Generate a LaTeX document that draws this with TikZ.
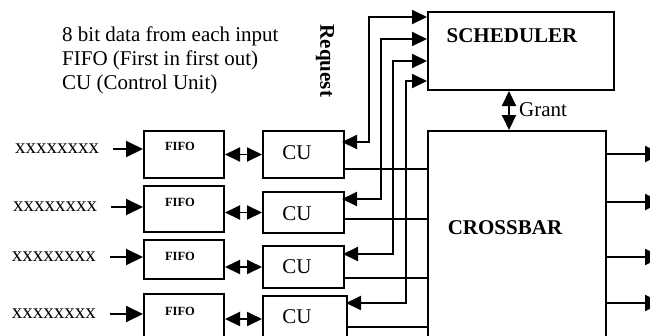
\documentclass[tikz,border=0pt]{standalone}
\usepackage{fontspec}
\setmainfont{Liberation Serif}
\usetikzlibrary{arrows.meta}
\begin{document}
\begin{tikzpicture}[x=1pt,y=-1pt,
 blk/.style={draw, line width=2pt, inner sep=0pt, anchor=north west},
 lbl/.style={inner sep=0pt, font=\fontsize{21}{24}\selectfont},
 blbl/.style={inner sep=0pt, font=\fontsize{21}{24}\selectfont\bfseries},
 flbl/.style={inner sep=0pt, font=\fontsize{12.5}{14}\selectfont\bfseries},
 ln/.style={line width=1.9pt},
 arr/.style={ln, -{Triangle[length=17pt,width=16pt]}},
 darr/.style={ln, {Triangle[length=15pt,width=14pt]}-{Triangle[length=15pt,width=14pt]}},
]
\useasboundingbox (0,0) rectangle (650,335);

% top-left legend
\node[lbl, anchor=base west] (t1) at (62,41) {8 bit data from each input};
\node[lbl, anchor=base west] (t2) at (62,65) {FIFO (First in first out)};
\node[lbl, anchor=base west] (t3) at (62,89) {CU (Control Unit)};
\node[blbl, rotate=-90] (req) at (325,61) {Request};

% FIFO boxes
\node[blk, minimum width=80pt, minimum height=47pt] (f1) at (143,130) {};
\node[blk, minimum width=80pt, minimum height=46pt] (f2) at (143,185) {};
\node[blk, minimum width=80pt, minimum height=39pt] (f3) at (143,239) {};
\node[blk, minimum width=80pt, minimum height=50pt] (f4) at (143,293) {};
\node[flbl] (fl1) at (180,146) {FIFO};
\node[flbl] (fl2) at (180,202) {FIFO};
\node[flbl] (fl3) at (180,256) {FIFO};
\node[flbl] (fl4) at (180,311) {FIFO};

% CU boxes
\node[blk, minimum width=81pt, minimum height=47pt] (c1) at (262,130) {};
\node[blk, minimum width=81pt, minimum height=41pt] (c2) at (262,191) {};
\node[blk, minimum width=81pt, minimum height=42pt] (c3) at (262,245) {};
\node[blk, minimum width=84pt, minimum height=46pt] (c4) at (262,295) {};
\node[lbl] (cl1) at (297,153) {CU};
\node[lbl] (cl2) at (297,214) {CU};
\node[lbl] (cl3) at (297,267) {CU};
\node[lbl] (cl4) at (297,317) {CU};

% scheduler and crossbar
\node[blk, minimum width=186pt, minimum height=78pt] (sch) at (427,11) {};
\node[blbl] (schl) at (512,36) {SCHEDULER};
\node[blk, minimum width=178pt, minimum height=230pt] (xb) at (427,130) {};
\node[blbl] (xbl) at (505,228) {CROSSBAR};

% inputs
\node[lbl] (x1) at (57,149) {xxxxxxxx};
\node[lbl] (x2) at (55,207) {xxxxxxxx};
\node[lbl] (x3) at (54,257) {xxxxxxxx};
\node[lbl] (x4) at (54,314) {xxxxxxxx};
\foreach \i in {1,2,3,4}{
  \draw[arr, shorten <=14pt] (x\i.east) -- (x\i.east -| f\i.west);
  \draw[darr] (c\i.west -| f\i.east) -- (c\i.west);
}

% request lines
\coordinate (r1) at (427,17); \coordinate (q1) at (342,142); \coordinate (v1) at (369,0);
\coordinate (r2) at (427,39); \coordinate (q2) at (342,199); \coordinate (v2) at (381,0);
\coordinate (r3) at (427,61); \coordinate (q3) at (343,254); \coordinate (v3) at (393,0);
\coordinate (r4) at (427,81); \coordinate (q4) at (346,303); \coordinate (v4) at (406,0);
\foreach \i in {1,2,3,4}{
  \draw[darr] (r\i) -| (v\i |- q\i) -- (q\i);
}

% CU to crossbar
\coordinate (h1) at (343,169);
\coordinate (h2) at (343,219);
\coordinate (h3) at (343,278);
\coordinate (h4) at (346,327);
\foreach \i in {1,2,3,4}{
  \draw[ln] (h\i) -- (h\i -| xb.west);
}

% outputs
\coordinate (o1) at (605,154); \coordinate (e1) at (662,154);
\coordinate (o2) at (605,202); \coordinate (e2) at (662,202);
\coordinate (o3) at (605,257); \coordinate (e3) at (662,257);
\coordinate (o4) at (605,303); \coordinate (e4) at (662,303);
\foreach \i in {1,2,3,4}{
  \draw[arr, shorten <=2pt] (o\i) -- (e\i);
}

% grant
\coordinate (g) at (509,0);
\draw[darr] (g |- sch.south) -- (g |- xb.north);
\node[lbl, anchor=west] (gl) at (519,110) {Grant};
\end{tikzpicture}
\end{document}
